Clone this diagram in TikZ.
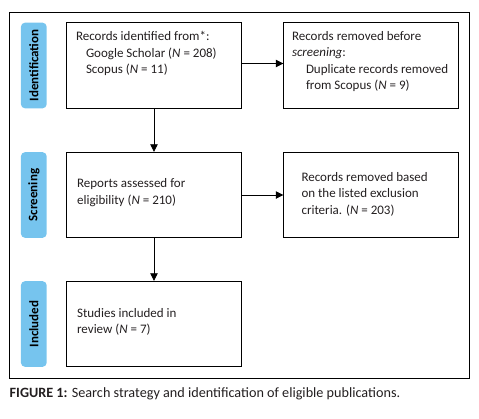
\documentclass[tikz,border=0pt]{standalone}
\usepackage{fontspec}
\setmainfont{Carlito}
\usetikzlibrary{arrows.meta}
\definecolor{stagebg}{RGB}{118,196,238}
\definecolor{inktext}{RGB}{35,31,32}

\begin{document}
\begin{tikzpicture}[x=1pt,y=-1pt,
  box/.style={draw,line width=.8pt,minimum width=174.6pt,minimum height=85.6pt,inner sep=0pt},
  stage/.style={fill=stagebg,rounded corners=4pt,rotate=90,minimum width=85.6pt,minimum height=25.7pt,inner sep=0pt,font=\bfseries\fontsize{13}{15}\selectfont},
  txt/.style={align=left,inner sep=0pt,text=inktext,font=\fontsize{13}{16.3}\selectfont,anchor=north west},
  flow/.style={line width=.8pt,-{Triangle[length=7.5pt,width=7.5pt]}}]
\path[use as bounding box] (0,0) rectangle (479,418);
\draw[line width=.8pt] (9.5,12) rectangle (469,378.7);

% stages
\node[stage] (stident) at (33.8,65.5) {Identification};
\node[stage] (stscreen) at (33.8,195) {Screening};
\node[stage] (stincl) at (33.8,324) {Included};

% boxes
\node[box] (ident) at (154,65.5) {};
\node[box] (dupl) at (371,65.5) {};
\node[box] (assess) at (154,195) {};
\node[box] (excl) at (371,195) {};
\node[box] (incl) at (154,324) {};

\node[txt] (identtxt) at ([xshift=9.5pt,yshift=-9.1pt]ident.north west)
  {Records identified from*:\\ \hspace*{10pt}Google Scholar (\textit{N} = 208)\\ \hspace*{10pt}Scopus (\textit{N} = 11)};
\node[txt] (dupltxt) at ([xshift=8.5pt,yshift=-9.1pt]dupl.north west)
  {Records removed before\\ \textit{screening}:\\ \hspace*{14pt}Duplicate records removed\\ \hspace*{14pt}from Scopus (\textit{N} = 9)};
\node[txt] (assesstxt) at ([xshift=10.6pt,yshift=-26.8pt]assess.north west)
  {Reports assessed for\\ eligibility (\textit{N} = 210)};
\node[txt] (excltxt) at ([xshift=18pt,yshift=-20.5pt]excl.north west)
  {Records removed based\\ on the listed exclusion\\ criteria. (\textit{N} = 203)};
\node[txt] (incltxt) at ([xshift=10.6pt,yshift=-27.3pt]incl.north west)
  {Studies included in\\ review (\textit{N} = 7)};

% arrows
\draw[flow] ([yshift=2pt]ident.east) -- ([yshift=2pt]dupl.west);
\draw[flow] (assess.east) -- (excl.west);
\draw[flow] (ident.south) -- (assess.north);
\draw[flow] (assess.south) -- (incl.north);

% caption
\node[anchor=base west,inner sep=0pt,text=inktext,font=\fontsize{14.2}{16}\selectfont] (caption) at (9.5,397)
  {\textbf{FIGURE 1:} Search strategy and identification of eligible publications.};
\end{tikzpicture}
\end{document}
